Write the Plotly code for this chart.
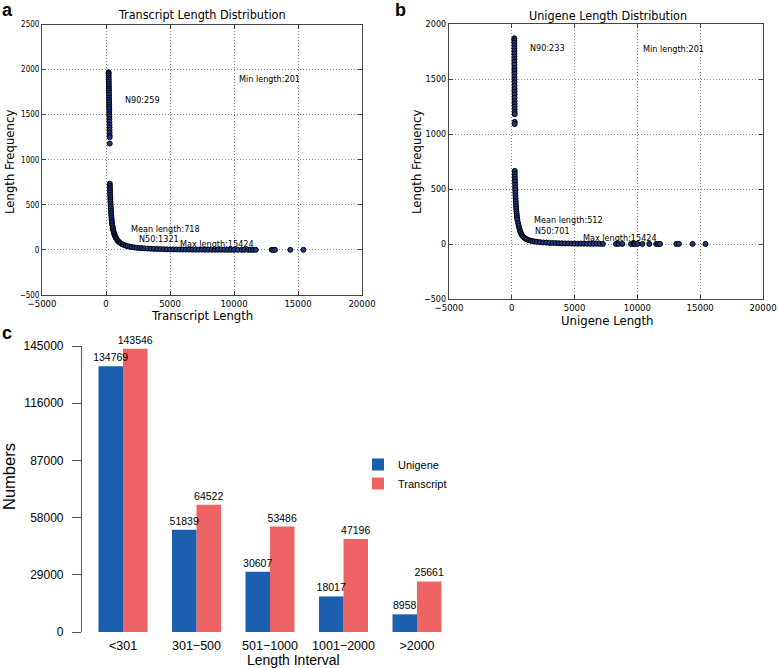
import plotly.graph_objects as go

W, H = 778, 668

# ---------------- Panel a: Transcript length distribution ----------------
a_col_len = [201, 204, 207, 210, 213, 216, 219, 222, 225, 228, 231, 234, 237, 240, 243,
             246, 249, 252, 255, 258, 261, 264, 267, 270, 273, 276, 279, 282, 285, 288]
a_col_freq = [1970, 1955, 1935, 1910, 1890, 1865, 1840, 1815, 1790, 1770, 1745, 1720, 1690, 1665, 1640,
              1610, 1585, 1560, 1530, 1505, 1480, 1450, 1420, 1390, 1360, 1330, 1300, 1270, 1250, 1180]
a_tail_len = [300, 305, 310, 316, 322, 328, 335, 342, 350, 358, 367, 377, 388, 400, 413, 427, 443,
              460, 480, 500, 525, 550, 580, 610, 645, 680, 720, 770, 820, 880, 950, 1020, 1100,
              1200, 1300, 1420, 1550, 1700, 1850, 2000, 2200, 2400, 2600, 2800, 3000, 3250, 3500,
              3750, 4000, 4250, 4500, 4750, 5000, 5250, 5500, 5750, 6000, 6250, 6500, 6750, 7000,
              7250, 7500, 7750, 8000, 8250, 8500, 8750, 9000, 9250, 9500, 9750, 10000,
              10300, 10600, 10800, 11100, 11300, 11500, 11700, 12950, 13050, 13200, 14400, 15424]
a_tail_freq = [735, 710, 685, 660, 635, 610, 585, 560, 535, 510, 485, 460, 435, 410, 385, 360, 335,
               312, 290, 270, 250, 232, 212, 195, 178, 163, 150, 135, 122, 109, 97, 87, 78,
               69, 61, 54, 47, 41, 36, 32, 28, 24, 21, 19, 17, 15, 13,
               11, 10, 9, 8, 7, 6, 6, 5, 5, 4, 4, 4, 3, 3,
               3, 3, 2, 2, 2, 2, 2, 2, 1, 1, 1, 1,
               1, 1, 1, 1, 1, 1, 1, 1, 1, 1, 1, 1]
a_notes = [("Min length:201", 10200, 1900), ("N90:259", 1300, 1667),
           ("Mean length:718", 1820, 233), ("N50:1321", 2400, 122),
           ("Max length:15424", 5600, 63)]

# ---------------- Panel b: Unigene length distribution ----------------
b_col_len = [201, 202, 203, 204, 205, 206, 207, 208, 209, 210, 211, 212, 213, 214, 215,
             216, 217, 218, 219, 220, 221, 222, 223, 224, 225, 226, 227, 228, 229, 230]
b_col_freq = [1870, 1850, 1830, 1805, 1780, 1755, 1730, 1705, 1680, 1655, 1630, 1600, 1575, 1550, 1520,
              1495, 1470, 1440, 1410, 1385, 1360, 1330, 1300, 1275, 1250, 1225, 1200, 1180, 1110, 1090]
b_tail_len = [234, 238, 243, 248, 254, 260, 267, 275, 283, 292, 302, 313, 325, 338, 352, 368, 385,
              405, 428, 450, 500, 550, 600, 650, 700, 760, 820, 900, 1000, 1100, 1200, 1350, 1500,
              1650, 1800, 2000, 2250, 2500, 2750, 3000, 3250, 3500, 3750, 4000, 4250, 4500, 4750,
              5000, 5250, 5500, 5750, 6000, 6250, 6500, 6750, 7000, 7250,
              8300, 8500, 8800, 9500, 9700, 9800, 10000, 10400, 10950, 11500, 11650, 11800,
              13100, 13300, 14400, 15424]
b_tail_freq = [665, 640, 615, 590, 565, 540, 515, 490, 465, 440, 415, 390, 365, 342, 320, 298, 277,
               256, 236, 218, 190, 165, 142, 122, 106, 90, 78, 66, 56, 48, 42, 35, 30,
               26, 23, 20, 17, 14, 12, 10, 9, 8, 7, 6, 5, 5, 4,
               4, 3, 3, 3, 2, 2, 2, 2, 1, 1,
               1, 1, 1, 1, 1, 1, 1, 1, 1, 1, 1, 1,
               1, 1, 1, 1]
b_notes = [("N90:233", 1276, 1785), ("Min length:201", 10290, 1776),
           ("Mean length:512", 1595, 215), ("N50:701", 1720, 118),
           ("Max length:15424", 5500, 52)]

# ---------------- Panel c: length interval bars ----------------
intervals = ["<301", "301\u2212500", "501\u22121000", "1001\u22122000", ">2000"]
unigene_counts = [134769, 51839, 30607, 18017, 8958]
transcript_counts = [143546, 64522, 53486, 47196, 25661]
c_yticks = [0, 29000, 58000, 87000, 116000, 145000]

BLUE = "#1C5FAE"
RED = "#EE6464"
MPL_FONT = "DejaVu Sans Condensed, DejaVu Sans, sans-serif"
R_FONT = "Liberation Sans, Arial, sans-serif"


def px_x(p):
    return p / W


def px_y(p):
    return 1 - p / H


fig = go.Figure()

marker = dict(size=5, color="#1d3c8c", line=dict(color="black", width=1))
fig.add_trace(go.Scatter(x=a_col_len + a_tail_len, y=a_col_freq + a_tail_freq, mode="markers",
                         marker=marker, showlegend=False, xaxis="x", yaxis="y"))
fig.add_trace(go.Scatter(x=b_col_len + b_tail_len, y=b_col_freq + b_tail_freq, mode="markers",
                         marker=marker, showlegend=False, xaxis="x2", yaxis="y2"))

bar_text_font = dict(size=10.5, family=R_FONT, color="black")
# Transcript drawn first so Unigene value labels sit on top; positions fixed by offset/width
fig.add_trace(go.Bar(x=intervals, y=transcript_counts, name="Transcript", marker_color=RED,
                     marker_line_width=0, text=[str(v) for v in transcript_counts],
                     offset=0, width=1 / 3,
                     textposition="outside", textfont=bar_text_font,
                     constraintext="none", cliponaxis=False, xaxis="x3", yaxis="y3"))
fig.add_trace(go.Bar(x=intervals, y=unigene_counts, name="Unigene", marker_color=BLUE,
                     marker_line_width=0, text=[str(v) for v in unigene_counts],
                     offset=-1 / 3, width=1 / 3,
                     textposition="outside", textfont=bar_text_font,
                     constraintext="none", cliponaxis=False, xaxis="x3", yaxis="y3"))

mpl_axis = dict(showline=True, linecolor="#444", linewidth=1, mirror="ticks", ticks="inside",
                ticklen=4, tickcolor="#444", showgrid=True, gridcolor="#8a8a8a", griddash="1px,2px",
                gridwidth=1, zeroline=False, automargin=False, tickformat="d",
                tickfont=dict(family=MPL_FONT, size=9.5, color="black"))

fig.update_layout(
    width=W, height=H, margin=dict(l=0, r=0, t=0, b=0, autoexpand=False),
    paper_bgcolor="white", plot_bgcolor="white",
    barmode="overlay",
    xaxis=dict(mpl_axis, domain=[px_x(42), px_x(362)], range=[-5000, 20000], dtick=5000,
               anchor="y"),
    yaxis=dict(mpl_axis, domain=[px_y(295), px_y(24.5)], range=[-500, 2500], dtick=500,
               anchor="x", tickfont=dict(family=MPL_FONT, size=8, color="black")),
    xaxis2=dict(mpl_axis, domain=[px_x(449), px_x(763)], range=[-5000, 20000], dtick=5000,
                anchor="y2"),
    yaxis2=dict(mpl_axis, domain=[px_y(299), px_y(24)], range=[-500, 2000], dtick=500,
                anchor="x2", tickfont=dict(family=MPL_FONT, size=9, color="black")),
    xaxis3=dict(domain=[px_x(82), px_x(534.6)], range=[-0.558, 5.6], anchor="y3",
                showline=False, showgrid=False, zeroline=False, ticks="", automargin=False,
                ticklabelstandoff=4,
                tickfont=dict(family=R_FONT, size=12.5, color="black")),
    yaxis3=dict(domain=[px_y(632), px_y(346)], range=[0, 145000], tickvals=c_yticks,
                tickformat="d", anchor="x3", showline=True, linecolor="#555", linewidth=1.2,
                ticks="outside", ticklen=9, tickcolor="#555", showgrid=False, zeroline=False,
                automargin=False, ticklabelstandoff=6,
                tickfont=dict(family=R_FONT, size=12, color="black")),
    legend=dict(x=px_x(358), y=px_y(450), xanchor="left", yanchor="top",
                traceorder="reversed",
                font=dict(family=R_FONT, size=11, color="black"), bgcolor="rgba(0,0,0,0)",
                tracegroupgap=0),
)

annotations = []
for text, x, y in a_notes:
    annotations.append(dict(text=text, x=x, y=y, xref="x", yref="y", xanchor="left",
                            yanchor="middle", showarrow=False,
                            font=dict(family=MPL_FONT, size=9, color="black")))
for text, x, y in b_notes:
    annotations.append(dict(text=text, x=x, y=y, xref="x2", yref="y2", xanchor="left",
                            yanchor="middle", showarrow=False,
                            font=dict(family=MPL_FONT, size=9, color="black")))


def paper_text(text, x, y, size, family, angle=0):
    return dict(text=text, x=px_x(x), y=px_y(y), xref="paper", yref="paper", xanchor="center",
                yanchor="middle", showarrow=False, textangle=angle,
                font=dict(family=family, size=size, color="black"))


annotations += [
    paper_text("Transcript Length Distribution", 202, 15, 12.5, MPL_FONT),
    paper_text("Unigene Length Distribution", 608, 16, 12.5, MPL_FONT),
    paper_text("Transcript Length", 202, 315, 13, MPL_FONT),
    paper_text("Unigene Length", 607, 320, 13, MPL_FONT),
    paper_text("Length Frequency", 10, 162, 13, MPL_FONT, -90),
    paper_text("Length Frequency", 417, 162, 13, MPL_FONT, -90),
    paper_text("Length Interval", 293, 660, 14, R_FONT),
    paper_text("Numbers", 9, 477, 16.5, R_FONT, -90),
    paper_text("<b>a</b>", 7, 10, 18, R_FONT),
    paper_text("<b>b</b>", 400, 10, 18, R_FONT),
    paper_text("<b>c</b>", 7, 333, 18, R_FONT),
]
fig.update_layout(annotations=annotations)

fig.write_html("out.html", config={"displayModeBar": False},
               post_script="document.body.style.margin='0';document.body.style.overflow='hidden';")
